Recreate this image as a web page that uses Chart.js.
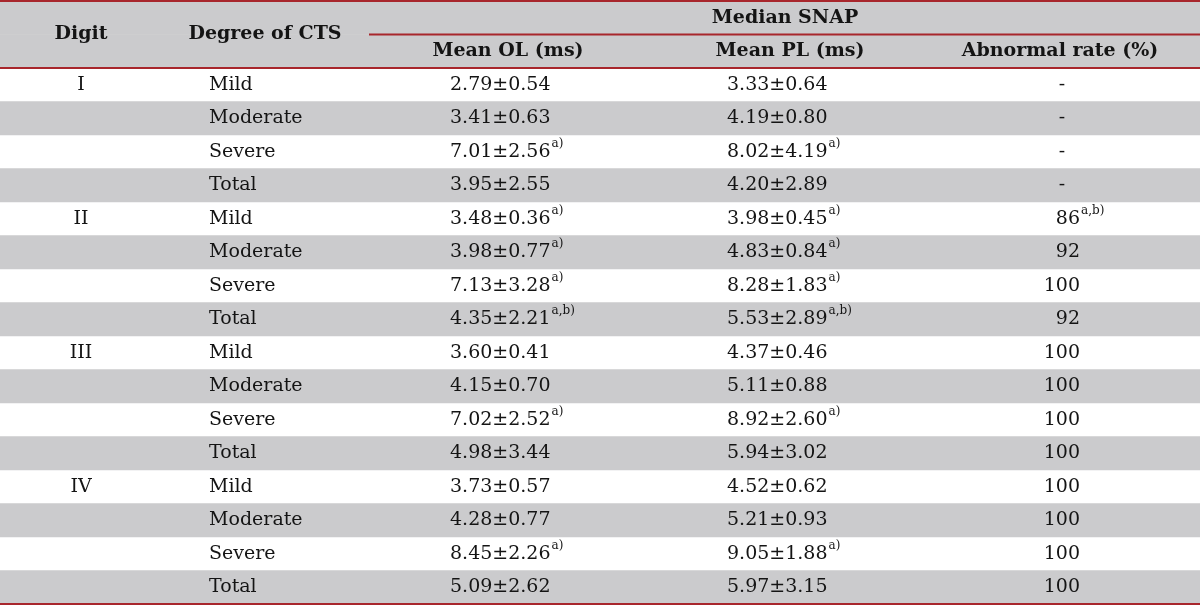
<!DOCTYPE html>
<html>
<head>
<meta charset="utf-8">
<script src="https://cdn.jsdelivr.net/npm/chart.js@4"></script>
<style>
  body { margin: 0; background: #fff; }
</style>
</head>
<body>
<canvas id="tbl" width="1200" height="605"></canvas>
<script>
// table content, one entry per body row
const digits = ['I', '', '', '', 'II', '', '', '', 'III', '', '', '', 'IV', '', '', ''];
const degrees = ['Mild', 'Moderate', 'Severe', 'Total', 'Mild', 'Moderate', 'Severe', 'Total',
                 'Mild', 'Moderate', 'Severe', 'Total', 'Mild', 'Moderate', 'Severe', 'Total'];
const olMean = [2.79, 3.41, 7.01, 3.95, 3.48, 3.98, 7.13, 4.35, 3.60, 4.15, 7.02, 4.98, 3.73, 4.28, 8.45, 5.09];
const olSd   = [0.54, 0.63, 2.56, 2.55, 0.36, 0.77, 3.28, 2.21, 0.41, 0.70, 2.52, 3.44, 0.57, 0.77, 2.26, 2.62];
const olNote = ['', '', 'a)', '', 'a)', 'a)', 'a)', 'a,b)', '', '', 'a)', '', '', '', 'a)', ''];
const plMean = [3.33, 4.19, 8.02, 4.20, 3.98, 4.83, 8.28, 5.53, 4.37, 5.11, 8.92, 5.94, 4.52, 5.21, 9.05, 5.97];
const plSd   = [0.64, 0.80, 4.19, 2.89, 0.45, 0.84, 1.83, 2.89, 0.46, 0.88, 2.60, 3.02, 0.62, 0.93, 1.88, 3.15];
const plNote = ['', '', 'a)', '', 'a)', 'a)', 'a)', 'a,b)', '', '', 'a)', '', '', '', 'a)', ''];
const abnRate = [null, null, null, null, 86, 92, 100, 92, 100, 100, 100, 100, 100, 100, 100, 100];
const abnNote = ['', '', '', '', 'a,b)', '', '', '', '', '', '', '', '', '', '', ''];

const headTop = 'Median SNAP';
const headCols = ['Digit', 'Degree of CTS', 'Mean OL (ms)', 'Mean PL (ms)', 'Abnormal rate (%)'];

// rows of the grid: two header rows then the body
const rowLabels = ['h1', 'h2'].concat(degrees.map((d, i) => 'r' + i));
// gray shading: header and every second body row
const shade = rowLabels.map((r, i) => (i < 2 || (i - 2) % 2 === 1) ? [0, 1200] : null);

const GRAY = '#cbcbcd';
const RED = '#a8262c';
const FONT = '"DejaVu Serif", serif';

// column anchors on the x scale
const colX = { digit: 81, degree: 209, ol: 450, olHead: 508, pl: 727, plHead: 790, abn: 1080, abnHead: 1060, snap: 785, snapLine: 369 };

function drawVal(ctx, text, note, x, y, align) {
  ctx.font = '19px ' + FONT;
  ctx.textAlign = align;
  ctx.fillText(text, x, y);
  if (note) {
    const w = ctx.measureText(text).width;
    const left = align === 'left' ? x + w : x;
    ctx.font = '12px ' + FONT;
    ctx.textAlign = 'left';
    ctx.fillText(note, left + 1, y - 8);
  }
}

const tablePlugin = {
  id: 'tableText',
  afterDatasetsDraw(chart) {
    const ctx = chart.ctx;
    const xs = chart.scales.x;
    const ys = chart.scales.y;
    const area = chart.chartArea;
    const rowH = ys.getPixelForValue(1) - ys.getPixelForValue(0);
    const X = v => xs.getPixelForValue(v);
    ctx.save();
    ctx.fillStyle = '#141414';
    ctx.textBaseline = 'middle';

    // header
    const hMid = ys.getPixelForValue(0) + rowH / 2;
    ctx.font = 'bold 19px ' + FONT;
    ctx.textAlign = 'center';
    ctx.fillText(headCols[0], X(colX.digit), hMid);
    ctx.fillText(headCols[1], X(colX.degree + 56), hMid);
    ctx.fillText(headTop, X(colX.snap), ys.getPixelForValue(0));
    ctx.fillText(headCols[2], X(colX.olHead), ys.getPixelForValue(1));
    ctx.fillText(headCols[3], X(colX.plHead), ys.getPixelForValue(1));
    ctx.fillText(headCols[4], X(colX.abnHead), ys.getPixelForValue(1));

    // body
    degrees.forEach((deg, i) => {
      const y = ys.getPixelForValue(i + 2);
      ctx.font = '19px ' + FONT;
      ctx.textAlign = 'center';
      if (digits[i]) ctx.fillText(digits[i], X(colX.digit), y);
      ctx.textAlign = 'left';
      ctx.fillText(deg, X(colX.degree), y);
      drawVal(ctx, olMean[i].toFixed(2) + '±' + olSd[i].toFixed(2), olNote[i], X(colX.ol), y, 'left');
      drawVal(ctx, plMean[i].toFixed(2) + '±' + plSd[i].toFixed(2), plNote[i], X(colX.pl), y, 'left');
      if (abnRate[i] === null) {
        ctx.font = '19px ' + FONT;
        ctx.textAlign = 'center';
        ctx.fillText('-', X(colX.abnHead + 2), y);
      } else {
        drawVal(ctx, String(abnRate[i]), abnNote[i], X(colX.abn), y, 'right');
      }
    });

    // rules
    ctx.strokeStyle = RED;
    ctx.lineWidth = 2;
    const rule = (x0, x1, y) => { ctx.beginPath(); ctx.moveTo(x0, y); ctx.lineTo(x1, y); ctx.stroke(); };
    rule(area.left, area.right, area.top);
    rule(X(colX.snapLine), area.right, ys.getPixelForValue(0) + rowH / 2);
    rule(area.left, area.right, ys.getPixelForValue(1) + rowH / 2);
    rule(area.left, area.right, area.bottom);
    ctx.restore();
  }
};

new Chart(document.getElementById('tbl'), {
  type: 'bar',
  data: {
    labels: rowLabels,
    datasets: [{
      data: shade,
      backgroundColor: GRAY,
      borderWidth: 0,
      barPercentage: 1,
      categoryPercentage: 1
    }]
  },
  options: {
    indexAxis: 'y',
    responsive: false,
    animation: false,
    layout: { padding: { top: 1, bottom: 1, left: 0, right: 0 } },
    plugins: { legend: { display: false }, tooltip: { enabled: false } },
    scales: {
      x: { type: 'linear', min: 0, max: 1200, display: false },
      y: { type: 'category', display: false, offset: true }
    }
  },
  plugins: [tablePlugin]
});
</script>
</body>
</html>
